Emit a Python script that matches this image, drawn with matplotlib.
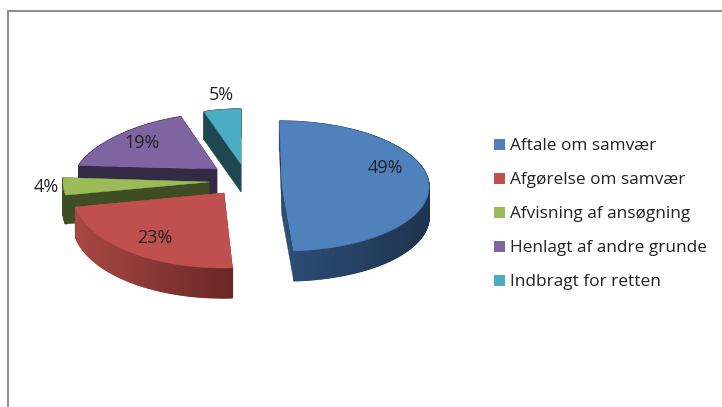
import numpy as np
import matplotlib
matplotlib.use("Agg")
import matplotlib.pyplot as plt
from matplotlib.patches import Patch, Polygon
from matplotlib.colors import to_rgb

categories = ["Aftale om samvær", "Afgørelse om samvær", "Afvisning af ansøgning",
              "Henlagt af andre grunde", "Indbragt for retten"]
values = [49, 23, 4, 19, 5]
pct_labels = ["49%", "23%", "4%", "19%", "5%"]

top_colors = ["#4f81bd", "#c0504d", "#9bbb59", "#8064a2", "#4bacc6"]
side_start = ["#2d4e75", "#a84845", "#3f4d24", "#352a45", "#1f4752"]
side_end = ["#1e3450", "#692725", "#3f4d24", "#352a45", "#1f4752"]

# layout of each exploded slice on the pixel canvas
apex_x = [282, 224, 209, 217, 241]
apex_y = [186, 193, 182, 169, 164]
radius_x = [147, 151, 146, 140, 145]
radius_y = [65, 75, 70, 55, 55]
persp = [0.0, 0.0, 0.0, 0.18, 0.18]
shear = [2.5, -1.0, 0.0, 0.0, 0.0]
depth = [30, 30, 29, 30, 28]
label_x = [385, 155, 46, 142, 221]
label_y = [168, 238, 187, 143, 95]
draw_order = [4, 3, 2, 1, 0]

FONT = "Open Sans"
fig = plt.figure(figsize=(7.22, 4.07), dpi=100)
ax = fig.add_axes([0, 0, 1, 1])
ax.set_xlim(0, 722)
ax.set_ylim(407, 0)
ax.axis("off")

edges = np.cumsum([0] + values) / sum(values) * 2 * np.pi


def project(i, theta):
    u, v = np.sin(theta), -np.cos(theta)
    x = apex_x[i] + radius_x[i] * u * (1 + persp[i] * v) + shear[i] * v
    y = apex_y[i] + radius_y[i] * v
    return x, y


for i in draw_order:
    layer = draw_order.index(i) * 3
    th = np.linspace(edges[i], edges[i + 1], max(40, int(values[i] * 8)))
    xs, ys = project(i, th)
    d = depth[i]
    a = (apex_x[i], apex_y[i])
    c0, c1 = np.array(to_rgb(side_start[i])), np.array(to_rgb(side_end[i]))
    # radial side walls
    for x0, y0, col in ((xs[0], ys[0], c1), (xs[-1], ys[-1], c0)):
        ax.add_patch(Polygon([(x0, y0), a, (a[0], a[1] + d), (x0, y0 + d)],
                             closed=True, fc=col, ec=col, lw=0.3, zorder=1 + layer))
    # curved outer wall with left-to-right shading
    span = max(xs.max() - xs.min(), 1)
    for j in range(len(th) - 1):
        t = ((xs[j] + xs[j + 1]) / 2 - xs.min()) / span
        col = c0 + (c1 - c0) * t
        ax.add_patch(Polygon([(xs[j], ys[j]), (xs[j + 1], ys[j + 1]),
                              (xs[j + 1], ys[j + 1] + d), (xs[j], ys[j] + d)],
                             closed=True, fc=col, ec=col, lw=0.9, zorder=1 + layer))
    # top
    ax.add_patch(Polygon(np.vstack([[a], np.column_stack([xs, ys])]), closed=True,
                         fc=top_colors[i], ec=top_colors[i], lw=0.3, zorder=2 + layer))
    ax.text(label_x[i], label_y[i], pct_labels[i], ha="center", va="center",
            fontsize=13, family=FONT, color="#222222", zorder=40)

# frame
ax.plot([8, 8, 722], [407, 11, 11], color="#8c8c8c", lw=1.4, zorder=50, solid_joinstyle="miter")

handles = [Patch(fc=c, ec="none") for c in top_colors]
leg = ax.legend(handles, categories, loc="upper left", bbox_to_anchor=(494, 138.5),
                bbox_transform=ax.transData, frameon=False, prop={"family": FONT, "size": 12.4},
                labelspacing=1.045, handlelength=0.65, handleheight=0.65, handletextpad=0.3,
                borderpad=0, borderaxespad=0, labelcolor="#222222")
fig.savefig("out.png", dpi=100)
